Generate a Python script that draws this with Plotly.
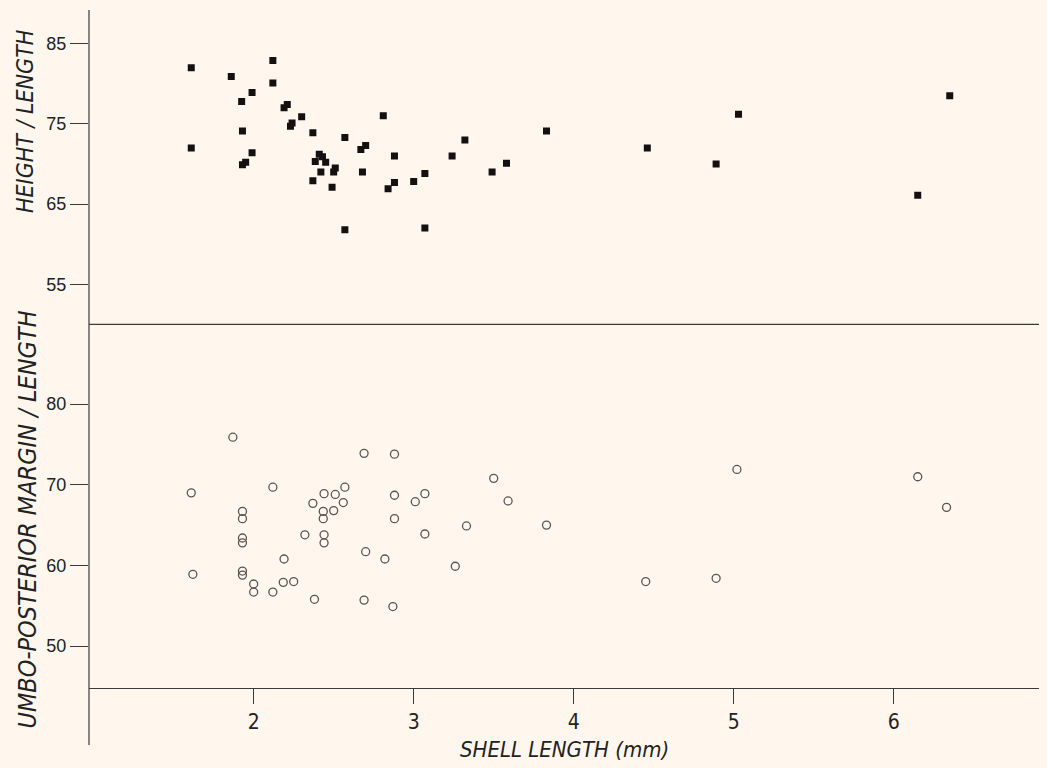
import plotly.graph_objects as go

# ---- data: height/length (top panel, filled squares) ----
hl_len = [1.61, 1.61, 1.86, 2.12, 2.12, 1.99, 1.925, 1.93, 1.99, 1.93, 1.95,
          2.19, 2.21, 2.30, 2.23, 2.24, 2.37, 2.41, 2.43, 2.385, 2.45, 2.42,
          2.37, 2.50, 2.51, 2.49, 2.57, 2.57, 2.67, 2.70, 2.68, 2.81, 2.88,
          2.84, 2.88, 3.00, 3.07, 3.07, 3.24, 3.32, 3.49, 3.58, 3.83, 4.46,
          4.89, 5.03, 6.15, 6.35]
hl_val = [82.0, 72.0, 80.9, 82.9, 80.1, 78.9, 77.8, 74.1, 71.4, 69.9, 70.2,
          77.0, 77.4, 75.9, 74.7, 75.1, 73.9, 71.2, 70.9, 70.3, 70.2, 69.0,
          67.9, 69.0, 69.5, 67.1, 61.8, 73.3, 71.8, 72.3, 69.0, 76.0, 71.0,
          66.9, 67.7, 67.8, 68.8, 62.0, 71.0, 73.0, 69.0, 70.1, 74.1, 72.0,
          70.0, 76.2, 66.1, 78.5]

# ---- data: umbo-posterior margin/length (bottom panel, open circles) ----
um_len = [1.87, 1.61, 1.62, 1.93, 1.93, 1.93, 1.93, 1.93, 1.93, 2.00, 2.00,
          2.12, 2.12, 2.19, 2.185, 2.25, 2.32, 2.37, 2.38, 2.44, 2.435, 2.435,
          2.44, 2.44, 2.51, 2.50, 2.57, 2.56, 2.69, 2.70, 2.69, 2.82, 2.88,
          2.88, 2.88, 2.87, 3.01, 3.07, 3.07, 3.26, 3.33, 3.50, 3.59, 3.83,
          4.45, 4.89, 5.02, 6.15, 6.33]
um_val = [75.9, 69.0, 58.9, 66.7, 65.8, 63.4, 62.8, 59.3, 58.8, 57.7, 56.7,
          69.7, 56.7, 60.8, 57.9, 58.0, 63.8, 67.7, 55.8, 68.9, 66.7, 65.8,
          63.8, 62.8, 68.8, 66.8, 69.7, 67.8, 73.9, 61.7, 55.7, 60.8, 73.8,
          68.7, 65.8, 54.9, 67.9, 68.9, 63.9, 59.9, 64.9, 70.8, 68.0, 65.0,
          58.0, 58.4, 71.9, 71.0, 67.2]

x_ticks = [2, 3, 4, 5, 6]
top_ticks = [55, 65, 75, 85]
bottom_ticks = [50, 60, 70, 80]

BG = "#fff7ee"
INK = "#3a3a3a"
TITLE_FONT = "Liberation Sans Narrow, DejaVu Sans Condensed, Liberation Sans, sans-serif"

fig = go.Figure()
fig.add_trace(go.Scatter(
    x=hl_len, y=hl_val, xaxis="x", yaxis="y2", mode="markers",
    marker=dict(symbol="square", size=7, color="#141010"),
    showlegend=False, hoverinfo="x+y"))
fig.add_trace(go.Scatter(
    x=um_len, y=um_val, xaxis="x", yaxis="y", mode="markers",
    marker=dict(symbol="circle-open", size=8, color="#5a5555",
                line=dict(width=1.3, color="#5a5555")),
    showlegend=False, hoverinfo="x+y"))

split = 0.5364

fig.update_layout(
    width=1039, height=760,
    margin=dict(l=81, r=7, t=2, b=80),
    paper_bgcolor=BG, plot_bgcolor=BG,
    xaxis=dict(range=[0.971, 6.914], tickvals=x_ticks, ticks="outside",
               ticklen=15, tickwidth=1.2, tickcolor=INK,
               showline=True, linecolor=INK, linewidth=1.2,
               showgrid=False, zeroline=False, anchor="y",
               tickfont=dict(family=TITLE_FONT, size=21, color="#222")),
    yaxis=dict(domain=[0, split], range=[44.8, 89.9], tickvals=bottom_ticks,
               ticks="outside", ticklen=18, tickwidth=1.2, tickcolor=INK,
               showline=False, showgrid=False, zeroline=False,
               tickfont=dict(family="Liberation Sans, sans-serif", size=18, color="#222")),
    yaxis2=dict(domain=[split, 1], range=[50.0, 89.2], tickvals=top_ticks,
                ticks="outside", ticklen=18, tickwidth=1.2, tickcolor=INK,
                showline=False, showgrid=False, zeroline=False, anchor="x",
                tickfont=dict(family="Liberation Sans, sans-serif", size=18, color="#222")),
    shapes=[
        dict(type="line", xref="paper", yref="paper", x0=0, x1=0,
             y0=-0.084, y1=1, line=dict(color=INK, width=1.2)),
        dict(type="line", xref="paper", yref="paper", x0=0, x1=1,
             y0=split, y1=split, line=dict(color=INK, width=1.2)),
    ],
    annotations=[
        dict(text="SHELL LENGTH (mm)", xref="paper", yref="paper",
             x=0.5, y=-0.091, xanchor="center", yanchor="middle",
             showarrow=False,
             font=dict(family=TITLE_FONT, size=22, color="#222", style="italic")),
        dict(text="HEIGHT / LENGTH", xref="paper", yref="paper",
             x=-0.083, y=(688 - 122) / 678, xanchor="left", yanchor="middle",
             textangle=-90, showarrow=False,
             font=dict(family=TITLE_FONT, size=23, color="#222", style="italic")),
        dict(text="UMBO-POSTERIOR MARGIN / LENGTH", xref="paper", yref="paper",
             x=-0.083, y=(688 - 520) / 678, xanchor="left", yanchor="middle",
             textangle=-90, showarrow=False,
             font=dict(family=TITLE_FONT, size=25, color="#222", style="italic")),
    ],
)

fig.write_html("out.html",
               post_script="document.body.style.background='%s';" % BG)
